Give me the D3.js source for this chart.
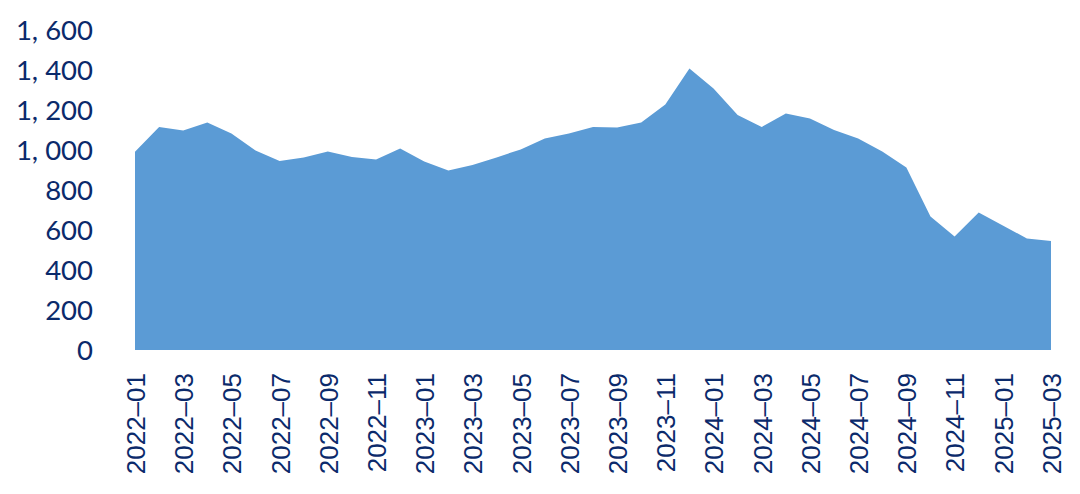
<!DOCTYPE html>
<html><head><meta charset="utf-8">
<script src="https://cdn.jsdelivr.net/npm/d3@7"></script>
<style>html,body{margin:0;padding:0;background:#fff;}</style>
</head><body>
<svg id="chart" width="1080" height="494"></svg>
<script>
const months = ["2022-01","2022-02","2022-03","2022-04","2022-05","2022-06","2022-07","2022-08","2022-09","2022-10","2022-11","2022-12",
"2023-01","2023-02","2023-03","2023-04","2023-05","2023-06","2023-07","2023-08","2023-09","2023-10","2023-11","2023-12",
"2024-01","2024-02","2024-03","2024-04","2024-05","2024-06","2024-07","2024-08","2024-09","2024-10","2024-11","2024-12",
"2025-01","2025-02","2025-03"];
const values = [991,1115,1097,1137,1082,998,945,962,992,965,953,1008,
942,897,925,963,1003,1058,1083,1115,1113,1137,1228,1408,
1308,1175,1115,1182,1158,1100,1058,992,913,667,568,688,
622,558,545];
const yTicks = [0,200,400,600,800,1000,1200,1400,1600];
const yTickLabels = ["0","200","400","600","800","1, 000","1, 200","1, 400","1, 600"];
const xTickLabels = months.filter((d,i)=>i%2===0);

const svg = d3.select("#chart");
const x = d3.scalePoint().domain(months).range([135,1051]);
const y = d3.scaleLinear().domain([0,1600]).range([350,30]);
const navy = "#0B2A6B";

const area = d3.area().x((d,i)=>x(months[i])).y0(y(0)).y1(d=>y(d));
svg.append("path").datum(values).attr("d",area).attr("fill","#5B9BD5");

const yAxis = d3.axisLeft(y).tickValues(yTicks).tickSize(0).tickPadding(0)
  .tickFormat((d,i)=>yTickLabels[i]);
const gy = svg.append("g").attr("transform","translate(93,0)").call(yAxis);
gy.select(".domain").remove();
gy.selectAll("text").attr("fill",navy).style("font-family","Lato, 'Noto Sans', sans-serif").style("font-size","27.5px").attr("dy","0.35em");

const xAxis = d3.axisBottom(x).tickValues(xTickLabels).tickSize(0).tickPadding(0)
  .tickFormat(d=>d.replace("-","\u2013"));
const gx = svg.append("g").attr("transform","translate(0,350)").call(xAxis);
gx.select(".domain").remove();
gx.selectAll("text").attr("fill",navy).style("font-family","'Liberation Sans', Arial, sans-serif").style("font-size","26px")
  .attr("text-anchor","end").attr("transform","rotate(-90)").attr("x",-23).attr("y",0).attr("dy","0.36em");
</script>
</body></html>
